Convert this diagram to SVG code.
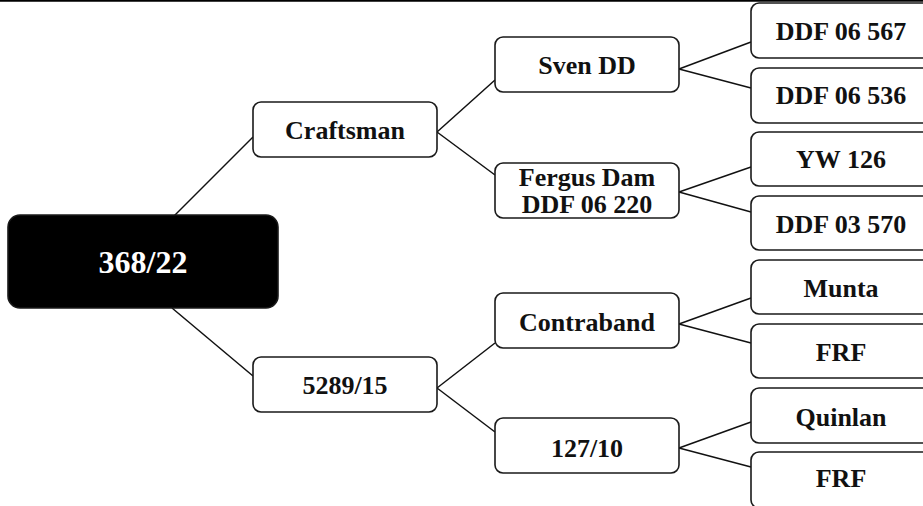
<svg xmlns="http://www.w3.org/2000/svg" width="923" height="506" viewBox="0 0 923 506">
<style>
.box{fill:#fff;stroke:#1a1a1a;stroke-width:1.6}
.root{fill:#000;stroke:#1a1a1a;stroke-width:1.6}
.t{font-family:"Liberation Serif","Times New Roman",serif;font-weight:bold;font-size:26px;fill:#111;text-anchor:middle}
.tw{font-family:"Liberation Serif","Times New Roman",serif;font-weight:bold;font-size:32px;fill:#fff;text-anchor:middle}
.c line{stroke:#111;stroke-width:1.5}
</style>
<rect x="0" y="0" width="923" height="506" fill="#fff"/>
<line x1="0" y1="0.8" x2="923" y2="0.8" stroke="#000" stroke-width="2"/>
<g id="connectors" class="c">
<line x1="162" y1="228" x2="253" y2="137"/>
<line x1="172" y1="308" x2="253" y2="376"/>
<line x1="437" y1="132" x2="495" y2="80"/>
<line x1="437" y1="132" x2="495" y2="175"/>
<line x1="437" y1="388" x2="495" y2="343"/>
<line x1="437" y1="388" x2="495" y2="432"/>
<line x1="679" y1="69" x2="751" y2="42"/>
<line x1="679" y1="69" x2="751" y2="88"/>
<line x1="679" y1="192" x2="751" y2="167"/>
<line x1="679" y1="192" x2="751" y2="212"/>
<line x1="679" y1="324" x2="751" y2="298"/>
<line x1="679" y1="324" x2="751" y2="343"/>
<line x1="679" y1="448" x2="751" y2="422"/>
<line x1="679" y1="448" x2="751" y2="467"/>
</g>
<g id="n-root"><rect class="root" x="8" y="215" width="270" height="93" rx="12"/><text class="tw" x="143" y="273">368/22</text></g>
<g id="n-craftsman"><rect class="box" x="253" y="102" width="184" height="55" rx="8"/><text class="t" x="345" y="139">Craftsman</text></g>
<g id="n-5289"><rect class="box" x="253" y="357" width="184" height="55" rx="8"/><text class="t" x="345" y="394">5289/15</text></g>
<g id="n-sven"><rect class="box" x="495" y="37" width="184" height="55" rx="8"/><text class="t" x="587" y="74">Sven DD</text></g>
<g id="n-fergus"><rect class="box" x="495" y="163" width="184" height="55" rx="8"/><text class="t" x="587" y="186">Fergus Dam</text><text class="t" x="587" y="213">DDF 06 220</text></g>
<g id="n-contraband"><rect class="box" x="495" y="293" width="184" height="55" rx="8"/><text class="t" x="587" y="331">Contraband</text></g>
<g id="n-127"><rect class="box" x="495" y="418" width="184" height="55" rx="8"/><text class="t" x="587" y="457">127/10</text></g>
<g id="n-ddf06567"><rect class="box" x="751" y="3" width="180" height="55" rx="8"/><text class="t" x="841" y="40">DDF 06 567</text></g>
<g id="n-ddf06536"><rect class="box" x="751" y="68" width="180" height="55" rx="8"/><text class="t" x="841" y="104">DDF 06 536</text></g>
<g id="n-yw126"><rect class="box" x="751" y="132" width="180" height="54" rx="8"/><text class="t" x="841" y="168">YW 126</text></g>
<g id="n-ddf03570"><rect class="box" x="751" y="196" width="180" height="54" rx="8"/><text class="t" x="841" y="233">DDF 03 570</text></g>
<g id="n-munta"><rect class="box" x="751" y="260" width="180" height="54" rx="8"/><text class="t" x="841" y="297">Munta</text></g>
<g id="n-frf1"><rect class="box" x="751" y="324" width="180" height="54" rx="8"/><text class="t" x="841" y="361">FRF</text></g>
<g id="n-quinlan"><rect class="box" x="751" y="388" width="180" height="55" rx="8"/><text class="t" x="841" y="426">Quinlan</text></g>
<g id="n-frf2"><rect class="box" x="751" y="452" width="180" height="56" rx="8"/><text class="t" x="841" y="487">FRF</text></g>
</svg>
